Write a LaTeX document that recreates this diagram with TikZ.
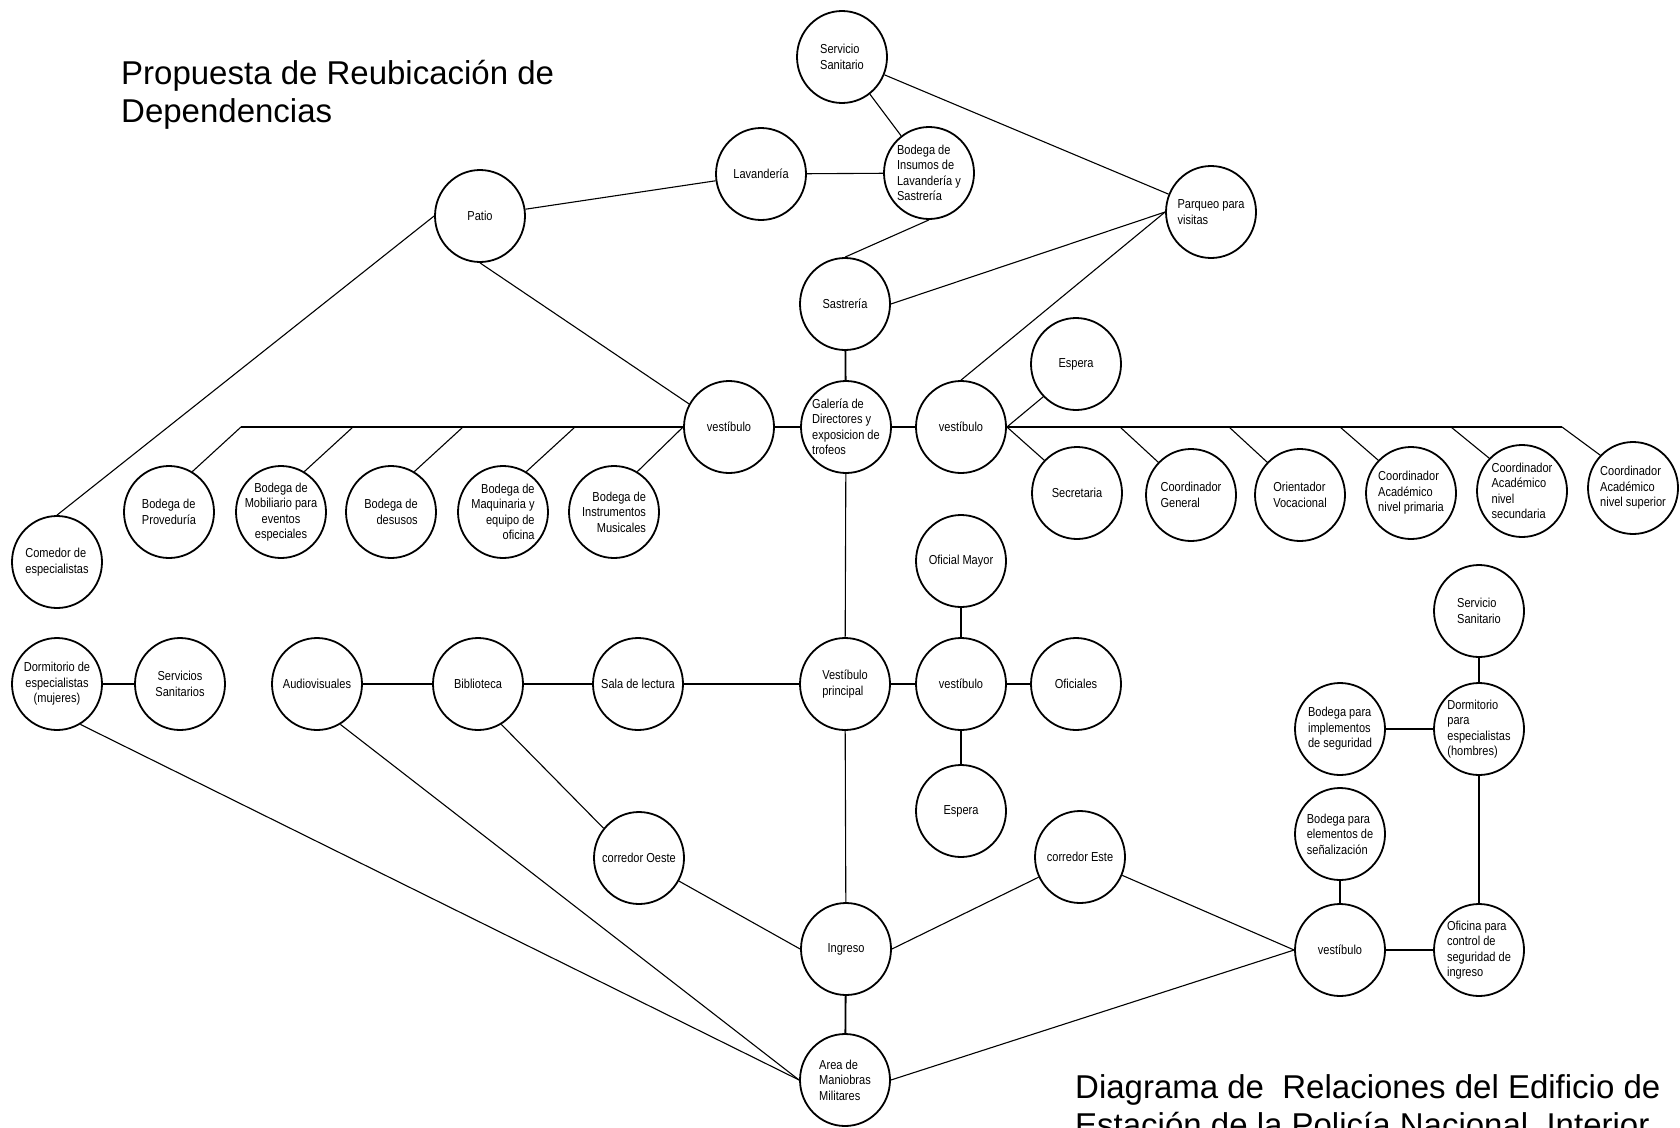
\documentclass[tikz,border=0pt]{standalone}
\usepackage{fontspec}
\usetikzlibrary{shapes.geometric}
\newfontfamily\roomfont[FakeStretch=0.85]{Liberation Sans}
\newfontfamily\titlefont{Liberation Sans}

\begin{document}
\begin{tikzpicture}[x=1pt, y=-1pt,
    room/.style={ellipse, draw, line width=1.8pt, minimum width=90pt, minimum height=92pt,
                 inner xsep=-8pt, inner ysep=0pt, align=left,
                 font=\roomfont\fontsize{13}{15.5}\selectfont},
    link/.style={line width=1.1pt},
    firm/.style={line width=1.8pt},
    heading/.style={anchor=base west, inner sep=0pt, font=\titlefont\fontsize{33}{38}\selectfont}]
  \clip (0,0) rectangle (1680,1127);
  \fill[white] (0,0) rectangle (1680,1127);
  % Titles
  \node[heading] (ttlA) at (121,84) {Propuesta de Reubicación de};
  \node[heading] (ttlB) at (121,122) {Dependencias};
  \node[heading] (ttlC) at (1075,1098) {Diagrama de \ Relaciones del Edificio de};
  \node[heading] (ttlD) at (1075,1136) {Estación de la Policía Nacional, Interior};
  % Upper block
  \node[room] (servT) at (842,57) {Servicio\\Sanitario};
  \node[room] (lav) at (761,174) {Lavandería};
  \node[room] (bodIns) at (929,173) {Bodega de\\Insumos de\\Lavandería y\\Sastrería};
  \node[room] (parq) at (1211,212) {Parqueo para\\visitas};
  \node[room] (patio) at (480,216) {Patio};
  \node[room] (sast) at (845,304) {Sastrería};
  \node[room] (esperaN) at (1076,364) {Espera};
  \node[room] (vestW) at (729,427) {vestíbulo};
  \node[room] (gal) at (846,427) {Galería de\\Directores y\\exposicion de\\trofeos};
  \node[room] (vestE) at (961,427) {vestíbulo};
  % Storage row (west)
  \node[room] (comedor) at (57,562) {Comedor de\\especialistas};
  \node[room] (prov) at (169,512) {Bodega de\\Proveduría};
  \node[room, align=center] (mob) at (281,512) {Bodega de\\Mobiliario para\\eventos\\especiales};
  \node[room, align=right] (desu) at (391,512) {Bodega de\\desusos};
  \node[room, align=right] (maq) at (503,512) {Bodega de\\Maquinaria y\\equipo de\\oficina};
  \node[room, align=right] (instr) at (614,512) {Bodega de\\Instrumentos\\Musicales};
  % Office row (east)
  \node[room] (secr) at (1077,493) {Secretaria};
  \node[room] (coordG) at (1191,495) {Coordinador\\General};
  \node[room] (orient) at (1300,495) {Orientador\\Vocacional};
  \node[room] (coordP) at (1411,493) {Coordinador\\Académico\\nivel primaria};
  \node[room] (coordS) at (1522,491) {Coordinador\\Académico\\nivel\\secundaria};
  \node[room] (coordSup) at (1633,488) {Coordinador\\Académico\\nivel superior};
  % Middle row
  \node[room, align=center] (dormM) at (57,684) {Dormitorio de\\especialistas\\(mujeres)};
  \node[room, align=center] (servS) at (180,684) {Servicios\\Sanitarios};
  \node[room] (audio) at (317,684) {Audiovisuales};
  \node[room] (bib) at (478,684) {Biblioteca};
  \node[room] (sala) at (638,684) {Sala de lectura};
  \node[room] (vestP) at (845,684) {Vestíbulo\\principal};
  \node[room] (vestC) at (961,684) {vestíbulo};
  \node[room] (ofMay) at (961,561) {Oficial Mayor};
  \node[room] (ofic) at (1076,684) {Oficiales};
  \node[room] (esperaS) at (961,811) {Espera};
  % Lower block
  \node[room] (corrO) at (639,858) {corredor Oeste};
  \node[room] (corrE) at (1080,857) {corredor Este};
  \node[room] (ingreso) at (846,949) {Ingreso};
  \node[room] (area) at (845,1080) {Area de\\Maniobras\\Militares};
  % East block
  \node[room] (servE) at (1479,611) {Servicio\\Sanitario};
  \node[room] (bodImp) at (1340,729) {Bodega para\\implementos\\de seguridad};
  \node[room] (dormH) at (1479,729) {Dormitorio\\para\\especialistas\\(hombres)};
  \node[room] (bodSen) at (1340,834) {Bodega para\\elementos de\\señalización};
  \node[room] (vestS) at (1340,950) {vestíbulo};
  \node[room] (ofCtl) at (1479,950) {Oficina para\\control de\\seguridad de\\ingreso};

  % Bus points
  \foreach \n in {prov,mob,desu,maq}
    \path (\n |- vestW.west) ++(72,0) coordinate (\n B);
  \foreach \n in {coordG,orient,coordP,coordS,coordSup}
    \path (\n |- vestE.east) ++(-71,0) coordinate (\n B);

  % Upper links
  \draw[link] (servT) -- (bodIns);
  \draw[link] (servT) -- (parq);
  \draw[link] (patio) -- (lav);
  \draw[link] (lav) -- (bodIns);
  \draw[link] (bodIns.south) -- (sast.north);
  \draw[link] (sast.east) -- (parq.west);
  \draw[link] (vestE.north) -- (parq.west);
  \draw[firm] (sast) -- (gal);
  \draw[link] (patio.west) -- (comedor.north);
  \draw[link] (patio.south) -- (vestW.150);
  \draw[firm] (vestW) -- (gal);
  \draw[firm] (gal) -- (vestE);
  % West bus
  \draw[link] (vestW.west) -- (provB);
  \foreach \n in {prov,mob,desu,maq}
    \draw[link] (\n B) -- (\n.60);
  \draw[link] (vestW.west) -- (instr.60);
  % East bus
  \draw[link] (vestE.east) -- (coordSupB);
  \foreach \n in {coordG,orient,coordP,coordS,coordSup}
    \draw[link] (\n B) -- (\n.135);
  \draw[link] (vestE.east) -- (esperaN.225);
  \draw[link] (vestE.east) -- (secr.135);
  % Middle links
  \draw[link] (gal) -- (vestP);
  \draw[firm] (vestP) -- (vestC);
  \draw[firm] (vestC) -- (ofMay);
  \draw[firm] (vestC) -- (ofic);
  \draw[firm] (vestC) -- (esperaS);
  \draw[link] (sala) -- (vestP);
  \draw[firm] (bib) -- (sala);
  \draw[link] (audio) -- (bib);
  \draw[link] (dormM) -- (servS);
  % Lower links
  \draw[link] (vestP) -- (ingreso);
  \draw[link] (bib.300) -- (corrO.140);
  \draw[link] (corrO.330) -- (ingreso.west);
  \draw[link] (ingreso.east) -- (corrE.206);
  \draw[firm] (ingreso) -- (area);
  \draw[link] (dormM.300) -- (area.west);
  \draw[link] (audio.300) -- (area.west);
  \draw[link] (area.east) -- (vestS.west);
  \draw[link] (corrE) -- (vestS.west);
  % East links
  \draw[firm] (bodSen) -- (vestS);
  \draw[firm] (vestS) -- (ofCtl);
  \draw[firm] (bodImp) -- (dormH);
  \draw[firm] (servE) -- (dormH);
  \draw[firm] (dormH) -- (ofCtl);
\end{tikzpicture}
\end{document}
